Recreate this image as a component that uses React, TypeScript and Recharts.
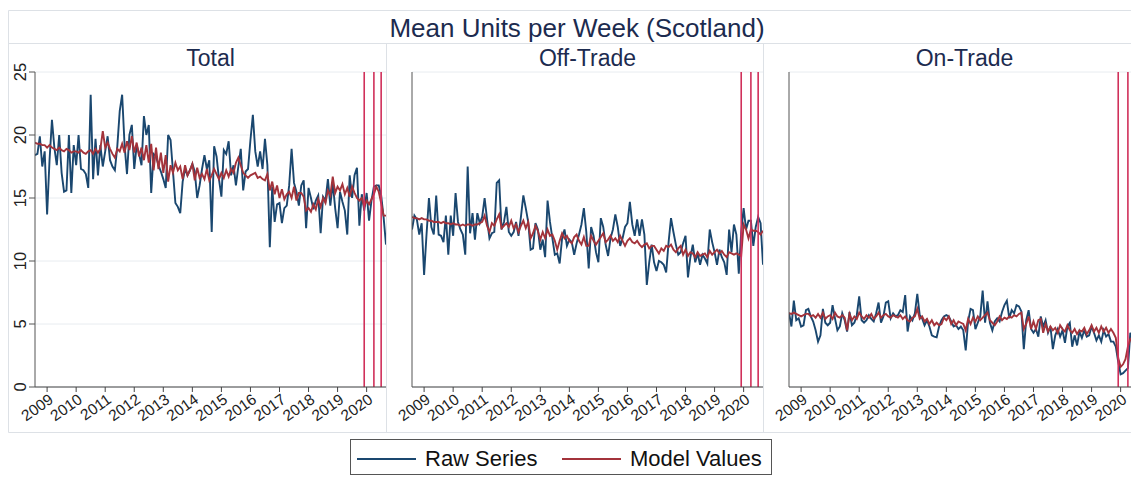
import React from 'react';
import { LineChart, Line, XAxis, YAxis, CartesianGrid, ReferenceLine } from 'recharts';

// Monthly series, first observation = 2008-08
const START_YEAR = 2008;
const START_MONTH = 8;

const totalRaw = [
  18.4, 18.5, 19.9, 17.5, 18.7, 13.7, 18.0, 21.2, 19.0, 17.6, 20.0, 17.0, 15.5, 15.6, 20.0, 15.4, 19.2, 17.6, 20.0, 17.3,
  17.2, 16.9, 15.8, 23.2, 16.5, 19.7, 16.8, 19.2, 17.5, 18.7, 19.9, 18.0, 17.5, 17.2, 19.1, 21.9, 23.2, 19.2, 16.9, 20.0,
  20.8, 17.3, 19.2, 18.5, 17.6, 21.5, 20.0, 20.8, 15.4, 18.5, 18.3, 17.6, 17.1, 16.5, 15.8, 20.0, 19.6, 17.1, 14.6, 14.3,
  13.8, 16.3, 17.3, 16.8, 17.2, 17.7, 17.1, 15.0, 16.0, 17.3, 18.4, 17.3, 18.0, 12.3, 19.1, 18.3, 16.5, 15.1, 18.8, 18.5,
  19.5, 16.8, 17.6, 16.0, 17.5, 18.9, 15.6, 17.1, 17.3, 19.6, 21.6, 18.7, 17.5, 18.7, 17.3, 19.7, 17.6, 11.1, 15.9, 13.1,
  14.5, 14.6, 13.0, 14.2, 14.4, 16.0, 18.9, 16.2, 15.5, 14.4, 16.0, 16.4, 12.6, 15.8, 15.0, 14.1, 14.8, 15.2, 12.2, 15.1,
  14.8, 16.5, 14.4, 16.2, 14.2, 12.6, 15.5, 14.7, 14.0, 12.1, 16.8, 15.0, 16.8, 17.4, 12.8, 15.3, 14.0, 15.4, 13.2, 14.8,
  15.9, 16.0, 16.0, 15.2, 13.5, 11.3,
];
const totalModel = [
  19.4, 19.3, 19.3, 19.2, 19.2, 19.0, 19.2, 19.0, 18.9, 18.8, 19.0, 18.8, 18.7, 18.9, 18.8, 18.6, 18.7, 18.7, 18.6, 18.8,
  18.6, 18.5, 18.7, 18.8, 18.5, 18.9, 18.6, 18.9, 20.3, 19.0, 19.4, 18.9, 18.5, 18.2, 18.9, 18.7, 19.3, 18.6, 19.5, 18.8,
  19.9, 18.6, 19.4, 18.3, 19.0, 18.0, 19.2, 17.8, 19.3, 17.2, 19.0, 17.3, 18.6, 17.0, 18.4, 16.3, 17.6, 17.0, 17.8, 17.2,
  17.5, 16.5, 17.6, 16.8, 17.2, 17.7, 16.4, 17.4, 16.6, 16.9, 16.5, 17.3, 16.4, 16.8, 17.3, 16.9, 16.5, 17.0, 16.6, 17.2,
  16.7, 17.3, 17.0, 17.8, 18.2, 17.6, 17.0, 16.8, 16.6, 16.8, 16.9, 17.0, 16.6, 16.7, 16.5, 16.4, 16.9, 15.6, 16.3, 15.3,
  16.0, 15.0, 15.7, 14.9, 15.3, 15.5, 15.0, 15.9, 14.8, 15.4, 15.4, 15.1, 14.0, 14.2, 13.9, 14.5, 14.1, 14.9, 14.3, 15.0,
  14.6, 15.6, 15.2, 16.7, 15.4, 15.9, 15.6, 16.1, 15.3, 15.8, 15.1, 15.9, 15.4, 15.0, 14.8, 15.0, 14.3, 14.8, 14.5, 14.9,
  15.3, 15.9, 15.5, 14.6, 13.6, 13.6,
];

const offRaw = [
  12.5, 13.6, 13.3, 12.1, 13.0, 8.9, 12.1, 15.0, 12.7, 12.1, 15.2, 12.1, 12.0, 11.5, 13.6, 10.5, 13.6, 12.0, 15.4, 13.1,
  12.5, 12.1, 10.5, 17.5, 12.2, 13.8, 11.7, 13.8, 13.0, 13.5, 15.0, 13.3, 11.8, 12.2, 12.3, 16.2, 16.4, 12.5, 13.1, 14.3,
  12.3, 12.0, 12.3, 13.1, 12.0, 13.5, 15.2, 14.2, 13.1, 10.9, 11.0, 13.0, 12.5, 10.9, 11.7, 10.3, 14.8, 13.1, 11.8, 10.5,
  10.6, 9.8, 11.8, 12.5, 11.2, 11.7, 11.5, 10.5, 11.4, 12.1, 12.9, 14.2, 12.3, 9.4, 12.7, 12.0, 10.7, 9.9, 13.4, 12.7,
  11.3, 10.4, 11.8, 12.5, 13.7, 12.7, 11.2, 11.8, 12.7, 13.0, 14.7, 12.9, 12.0, 13.3, 12.0, 13.3, 12.1, 8.1, 9.9, 11.3,
  9.9, 9.2, 10.0, 9.9, 9.7, 9.1, 11.5, 13.4, 12.3, 11.3, 10.5, 10.7, 11.4, 12.0, 8.7, 10.3, 11.3, 9.9, 10.6, 9.7,
  10.5, 10.2, 9.8, 12.5, 11.5, 10.7, 9.7, 10.9, 10.3, 9.9, 8.9, 12.5, 10.7, 12.9, 12.1, 9.0, 12.3, 14.2, 12.5, 13.2,
  13.2, 11.2, 12.7, 13.5, 13.0, 9.7,
];
const offModel = [
  13.5, 13.4, 13.4, 13.3, 13.4, 13.3, 13.3, 13.2, 13.2, 13.1, 13.1, 13.1, 13.0, 13.1, 13.0, 13.0, 12.9, 13.0, 12.9, 12.9,
  12.8, 12.9, 12.8, 12.9, 12.9, 12.8, 12.9, 12.9, 13.0, 13.1, 13.6, 12.8, 12.3, 13.0, 12.8, 13.3, 13.7, 12.6, 12.8, 13.0,
  12.7, 13.2, 12.6, 12.9, 12.3, 12.8, 13.2, 12.6, 13.1, 11.8, 12.2, 12.8, 12.4, 11.7, 12.3, 11.8, 12.5, 12.0, 12.1, 11.6,
  10.9, 11.6, 12.2, 11.8, 12.0, 11.6, 11.4, 11.9, 12.1, 11.6, 11.3, 11.9, 11.2, 11.2, 12.0, 11.6, 11.3, 11.6, 11.9, 12.2,
  11.5, 11.7, 12.0, 11.6, 11.8, 11.5, 12.0, 11.6, 11.2, 11.6, 11.8, 11.5, 11.4, 11.6, 11.3, 11.1, 11.3, 11.4, 11.0, 11.2,
  11.2, 10.9, 10.6, 11.0, 10.8, 11.2, 11.1, 11.3, 10.9, 10.7, 11.0, 11.2, 10.5, 10.9, 10.4, 10.7, 10.6, 10.3, 10.7, 10.4,
  10.5, 10.6, 10.3, 10.8, 10.5, 10.7, 10.9, 10.6, 10.8, 10.5, 10.3, 10.7, 10.6, 10.5, 10.6, 10.5, 10.4, 12.9, 12.5, 11.8,
  12.5, 12.4, 12.4, 12.3, 12.1, 12.4,
];

const onRaw = [
  5.9, 4.8, 6.85, 5.3, 5.45, 4.8, 4.9, 6.1, 6.2, 5.6, 5.2, 4.5, 3.6, 4.1, 6.2, 5.1, 4.9, 5.1, 6.5, 5.45,
  4.5, 4.8, 5.85, 5.3, 4.4, 5.95, 4.9, 5.1, 5.7, 7.2, 5.3, 5.1, 5.3, 5.7, 5.4, 5.2, 5.85, 6.7, 5.1, 5.6,
  6.7, 6.8, 5.45, 5.85, 5.6, 5.7, 6.1, 5.95, 7.3, 4.4, 5.6, 5.3, 5.85, 7.4, 5.7, 5.45, 4.9, 5.3, 4.8, 4.1,
  4.0, 3.95, 4.8, 5.3, 5.6, 5.7, 5.6, 5.2, 4.8, 4.9, 4.6, 4.8, 4.5, 2.9, 5.2, 6.2, 6.1, 4.6, 5.1, 5.6,
  7.65, 5.1, 6.8, 5.1, 4.5, 5.2, 5.45, 5.2, 5.95, 6.5, 6.85, 5.45, 6.1, 5.85, 6.5, 6.4, 6.0, 3.0, 5.3, 6.1,
  4.6, 4.3, 4.6, 4.0, 5.6, 4.8, 5.3, 4.3, 4.8, 3.0, 4.1, 4.6, 4.0, 4.5, 3.5, 4.8, 5.1, 3.2, 4.1, 3.3,
  4.4, 3.9, 4.5, 4.0, 4.1, 4.8, 4.3, 3.7, 4.1, 3.6, 4.5, 4.0, 4.2, 3.6, 3.6, 3.2, 2.0, 1.0, 1.1, 1.3,
  1.5, 4.3, 3.8, 3.5, 3.3, 3.0,
];
const onModel = [
  5.85, 5.8, 5.9, 5.8, 5.7, 5.6, 5.7, 5.8, 5.8, 5.6, 5.7, 5.5, 5.8, 5.5, 5.9, 5.4, 5.6, 5.7, 5.4, 5.9,
  5.6, 5.5, 5.7, 5.5, 4.5, 5.8, 5.3, 5.6, 5.4, 5.9, 5.6, 5.4, 5.7, 5.5, 5.8, 5.4, 5.6, 5.9, 5.5, 5.7,
  5.8, 5.6, 5.5, 5.7, 5.6, 5.5, 5.7, 5.4, 5.6, 5.3, 5.2, 5.5, 5.6, 6.2, 5.4, 5.6, 5.2, 5.4, 5.0, 5.3,
  4.9, 5.1, 4.9, 5.0, 5.5, 5.3, 5.6, 5.0, 5.3, 4.9, 5.2, 5.1, 5.0, 4.5, 5.4, 5.0, 5.5, 5.2, 5.6, 5.3,
  5.5, 5.7, 5.9, 5.3, 5.1, 4.9, 5.2, 5.6, 5.3, 5.5, 5.4, 5.6, 5.5, 5.7, 5.6, 5.8, 5.9, 4.6, 5.0, 5.6,
  4.6, 5.2, 4.6, 5.3, 5.4, 4.3, 5.0, 4.4, 4.8, 4.5, 4.7, 4.3, 4.9, 4.6, 4.4, 4.9, 4.5, 4.3, 4.6, 4.2,
  4.5, 4.4, 4.7, 4.2, 4.5, 4.9, 4.4, 4.7, 4.3, 4.8, 4.4, 4.7, 4.3, 4.6, 4.3, 3.9, 2.3, 1.6, 1.8, 2.2,
  3.2, 3.8, 3.6, 3.4, 3.3, 3.1,
];

const yearLabels = [2009, 2010, 2011, 2012, 2013, 2014, 2015, 2016, 2017, 2018, 2019, 2020];
const yTicks = [0, 5, 10, 15, 20, 25];
const breakDates = ['2019-12', '2020-04', '2020-07'];
const panelTitles = ['Total', 'Off-Trade', 'On-Trade'];
const legendLabels = ['Raw Series', 'Model Values'];

const BLUE = '#1a476f';
const RED = '#a3333b';
const VLINE = '#d0305a';
const NAVY = '#1c2b4f';
const FONT = '"Liberation Sans", Arial, Helvetica, sans-serif';

const toT = (i: number) => START_YEAR + (START_MONTH - 1 + i) / 12;
const dateToT = (s: string) => {
  const [y, m] = s.split('-').map(Number);
  return y + (m - 1) / 12;
};
const T0 = toT(0);
const T1 = toT(totalRaw.length - 1);

const buildRows = (raw: number[], model: number[]) =>
  raw.map((v, i) => ({ t: toT(i), raw: v, model: model[i] }));

const panels = [
  { title: panelTitles[0], rows: buildRows(totalRaw, totalModel), left: 0, labels: true },
  { title: panelTitles[1], rows: buildRows(offRaw, offModel), left: 377, labels: false },
  { title: panelTitles[2], rows: buildRows(onRaw, onModel), left: 754, labels: false },
];

const XTick = (props: any) => {
  const { x, y, payload } = props;
  return (
    <text
      x={x + 1}
      y={y - 1}
      dy="0.7em"
      textAnchor="end"
      transform={`rotate(-35, ${x + 1}, ${y - 1})`}
      fontSize={15.5}
      fontFamily={FONT}
      fill="#222"
    >
      {Math.round(payload.value)}
    </text>
  );
};

const YTick = (props: any) => {
  const { x, y, payload } = props;
  const bx = x - 1.5;
  return (
    <text
      x={bx}
      y={y}
      textAnchor="middle"
      transform={`rotate(-90, ${bx}, ${y})`}
      fontSize={16.5}
      fontFamily={FONT}
      fill="#222"
    >
      {payload.value}
    </text>
  );
};

const Panel = ({ rows, left, labels }: any) => (
  <div style={{ position: 'absolute', left, top: 0 }}>
    <LineChart width={400} height={430} data={rows} margin={{ top: 72, right: 14, bottom: 0, left: 0 }}>
      <CartesianGrid horizontal vertical={false} stroke="#e8ecf0" strokeWidth={1} />
      <XAxis
        dataKey="t"
        type="number"
        domain={[T0, T1]}
        ticks={yearLabels}
        interval={0}
        height={43}
        tickSize={5}
        tickMargin={2}
        allowDataOverflow
        axisLine={{ stroke: '#444', strokeWidth: 1 }}
        tickLine={{ stroke: '#444', strokeWidth: 1 }}
        tick={(p: any) => <XTick {...p} />}
      />
      <YAxis
        type="number"
        domain={[0, 25]}
        ticks={yTicks}
        interval={0}
        width={35}
        tickSize={labels ? 6 : 0}
        tickMargin={2}
        axisLine={{ stroke: '#555', strokeWidth: 1 }}
        tickLine={labels ? { stroke: '#555', strokeWidth: 1 } : false}
        tick={labels ? (p: any) => <YTick {...p} /> : false}
      />
      <Line type="linear" dataKey="raw" stroke={BLUE} strokeWidth={1.9} dot={false} isAnimationActive={false} />
      <Line type="linear" dataKey="model" stroke={RED} strokeWidth={1.9} dot={false} isAnimationActive={false} />
      {breakDates.map((d) => (
        <ReferenceLine key={d} x={dateToT(d)} stroke={VLINE} strokeWidth={1.6} ifOverflow="hidden" />
      ))}
    </LineChart>
  </div>
);

export default function App() {
  const frame = '#dde1e6';
  const titleCenters = [210.5, 587.5, 964.5];
  return (
    <div
      style={{
        position: 'absolute',
        left: 0,
        top: 0,
        width: 1131,
        height: 477,
        overflow: 'hidden',
        background: '#fff',
        fontFamily: FONT,
      }}
    >
      <svg width={1131} height={477} style={{ position: 'absolute', left: 0, top: 0 }}>
        <line x1={8.5} y1={10.5} x2={1131} y2={10.5} stroke={frame} />
        <line x1={8.5} y1={10.5} x2={8.5} y2={432.5} stroke={frame} />
        <line x1={8.5} y1={43.5} x2={1131} y2={43.5} stroke={frame} />
        <line x1={8.5} y1={432.5} x2={1131} y2={432.5} stroke={frame} />
        <line x1={386.5} y1={43.5} x2={386.5} y2={432.5} stroke={frame} />
        <line x1={763.5} y1={43.5} x2={763.5} y2={432.5} stroke={frame} />
        <text x={577} y={37} textAnchor="middle" fontSize={26} fill={NAVY} fontFamily={FONT}>
          Mean Units per Week (Scotland)
        </text>
        {panelTitles.map((t, k) => (
          <text key={t} x={titleCenters[k]} y={66} textAnchor="middle" fontSize={23} fill={NAVY} fontFamily={FONT}>
            {t}
          </text>
        ))}
      </svg>
      {panels.map((p) => (
        <Panel key={p.title} rows={p.rows} left={p.left} labels={p.labels} />
      ))}
      <svg width={1131} height={477} style={{ position: 'absolute', left: 0, top: 0, pointerEvents: 'none' }}>
        <rect x={350.5} y={439.5} width={421} height={35} fill="#fff" stroke="#555" strokeWidth={1} />
        <line x1={357} y1={459} x2={416} y2={459} stroke={BLUE} strokeWidth={2} />
        <text x={425} y={466} fontSize={22} fill="#111" fontFamily={FONT}>
          {legendLabels[0]}
        </text>
        <line x1={562} y1={459} x2={621} y2={459} stroke={RED} strokeWidth={2} />
        <text x={630} y={466} fontSize={22} fill="#111" fontFamily={FONT}>
          {legendLabels[1]}
        </text>
      </svg>
    </div>
  );
}
